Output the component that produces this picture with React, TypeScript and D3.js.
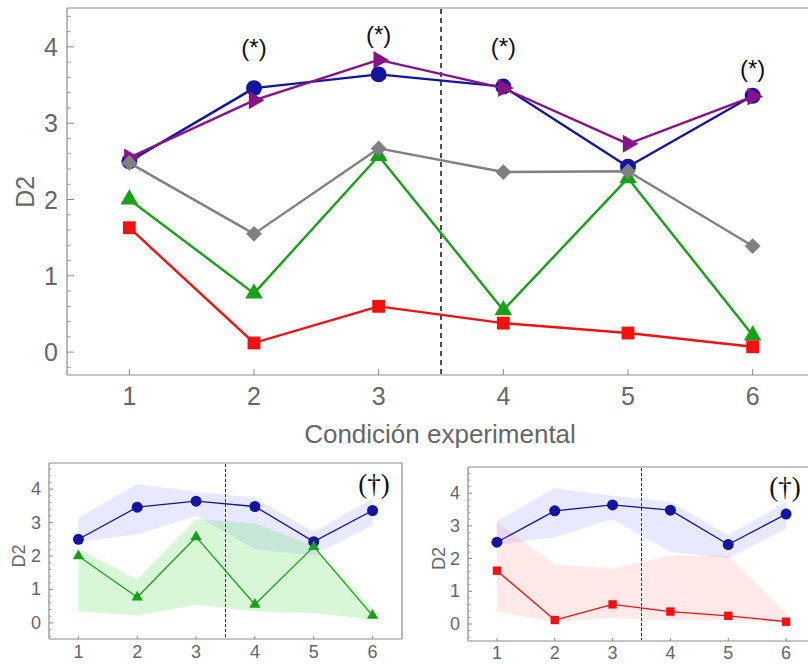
import React from "react";
import * as d3 from "d3";

const conditions = [1, 2, 3, 4, 5, 6];
const blueValues = [2.5, 3.46, 3.64, 3.48, 2.43, 3.36];
const purpleValues = [2.55, 3.3, 3.83, 3.46, 2.73, 3.35];
const grayValues = [2.48, 1.55, 2.67, 2.36, 2.37, 1.39];
const greenValues = [2.0, 0.77, 2.57, 0.55, 2.28, 0.22];
const redValues = [1.63, 0.12, 0.6, 0.38, 0.25, 0.07];

const blueLower = [2.42, 2.65, 3.2, 2.2, 2.02, 2.92];
const blueUpper = [3.14, 4.15, 3.92, 3.74, 2.72, 3.72];
const greenLower = [0.35, 0.22, 0.55, 0.35, 0.3, 0.1];
const greenUpper = [2.2, 1.3, 3.1, 2.97, 2.3, 0.42];
const redLower = [0.38, 0.07, 0.18, 0.12, 0.12, 0.05];
const redUpper = [3.12, 1.82, 1.7, 2.1, 2.08, 0.32];

const starConditions = [2, 3, 4, 6];
const starValues = [3.99, 4.16, 4.0, 3.72];

const mainYTicks = [0, 1, 2, 3, 4];
const smallYTicks = [0, 1, 2, 3, 4];

const FONT = "'Liberation Sans', Arial, sans-serif";
const SERIF = "'Liberation Serif', 'Times New Roman', serif";
const TICK_COLOR = "#666";
const AXIS_COLOR = "#8a8a8a";

type Scale = d3.ScaleLinear<number, number>;

function symbolPath(kind: string, size: number) {
  if (kind === "circle") return d3.symbol(d3.symbolCircle, size)()!;
  if (kind === "square") return d3.symbol(d3.symbolSquare, size)()!;
  if (kind === "diamond") return d3.symbol(d3.symbolSquare, size)()!;
  return d3.symbol(d3.symbolTriangle, size)()!;
}
function symbolRotate(kind: string) {
  if (kind === "diamond") return 45;
  if (kind === "right") return 90;
  return 0;
}

function Series({
  x, y, values, color, kind, size, width,
}: { x: Scale; y: Scale; values: number[]; color: string; kind: string; size: number; width: number }) {
  const line = d3
    .line<number>()
    .x((_, i) => x(conditions[i]))
    .y((d) => y(d));
  const path = symbolPath(kind, size);
  const rot = symbolRotate(kind);
  return (
    <g>
      <path d={line(values)!} fill="none" stroke={color} strokeWidth={width} strokeLinejoin="round" />
      {values.map((v, i) => (
        <path
          key={i}
          d={path}
          fill={color}
          transform={`translate(${x(conditions[i])},${y(v)}) rotate(${rot})`}
        />
      ))}
    </g>
  );
}

function Band({ x, y, lower, upper, color, opacity }: { x: Scale; y: Scale; lower: number[]; upper: number[]; color: string; opacity: number }) {
  const area = d3
    .area<number>()
    .x((_, i) => x(conditions[i]))
    .y0((_, i) => y(lower[i]))
    .y1((_, i) => y(upper[i]));
  return <path d={area(conditions)!} fill={color} fillOpacity={opacity} stroke="none" />;
}

function Frame({
  x, y, left, right, top, bottom, yTicks, majorLen, minorLen, fontSize, labelGap, xLabelY, drawRight, xTickLen,
}: {
  x: Scale; y: Scale; left: number; right: number; top: number; bottom: number; yTicks: number[];
  majorLen: number; minorLen: number; fontSize: number; labelGap: number; xLabelY: number; drawRight: boolean; xTickLen: number;
}) {
  const [d0, d1] = y.domain();
  const minor = d3.range(Math.ceil(d0 / 0.2) * 0.2, d1, 0.2).filter((v) => Math.abs(v - Math.round(v)) > 0.01);
  return (
    <g>
      <line x1={left} x2={right} y1={top} y2={top} stroke={AXIS_COLOR} strokeWidth={1.2} />
      <line x1={left} x2={right} y1={bottom} y2={bottom} stroke={AXIS_COLOR} strokeWidth={1.2} />
      <line x1={left} x2={left} y1={top} y2={bottom} stroke={AXIS_COLOR} strokeWidth={1.2} />
      {drawRight && <line x1={right} x2={right} y1={top} y2={bottom} stroke={AXIS_COLOR} strokeWidth={1.2} />}
      {yTicks.map((t) => (
        <g key={t}>
          <line x1={left} x2={left + majorLen} y1={y(t)} y2={y(t)} stroke={AXIS_COLOR} strokeWidth={1} />
          <text
            x={left - labelGap}
            y={y(t)}
            textAnchor="end"
            dominantBaseline="central"
            fontFamily={FONT}
            fontSize={fontSize}
            fill={TICK_COLOR}
          >
            {t}
          </text>
        </g>
      ))}
      {minor.map((t, i) => (
        <line key={i} x1={left} x2={left + minorLen} y1={y(t)} y2={y(t)} stroke={AXIS_COLOR} strokeWidth={0.8} />
      ))}
      {conditions.map((c) => (
        <g key={c}>
          <line x1={x(c)} x2={x(c)} y1={bottom} y2={bottom - xTickLen} stroke={AXIS_COLOR} strokeWidth={1} />
          <text
            x={x(c)}
            y={xLabelY}
            textAnchor="middle"
            dominantBaseline="central"
            fontFamily={FONT}
            fontSize={fontSize}
            fill={TICK_COLOR}
          >
            {c}
          </text>
        </g>
      ))}
    </g>
  );
}

export default function App() {
  // Main panel
  const mx = d3.scaleLinear().domain([0.5, 6.5]).range([67, 815]);
  const my = d3.scaleLinear().domain([-0.3, 4.51]).range([375, 8]);
  // Bottom-left panel
  const lx = d3.scaleLinear().domain([0.5, 6.5]).range([49, 402]);
  const ly = d3.scaleLinear().domain([-0.48, 4.78]).range([639, 463]);
  // Bottom-right panel
  const rx = d3.scaleLinear().domain([0.5, 6.5]).range([468, 815]);
  const ry = d3.scaleLinear().domain([-0.52, 4.8]).range([641, 467]);

  const blue = "#14149e";
  const purple = "#87138a";
  const gray = "#808080";
  const green = "#18a018";
  const red = "#f21010";

  return (
    <div style={{ position: "absolute", left: 0, top: 0 }}>
      <svg width={808} height={664} style={{ display: "block", background: "#fff" }}>
        <rect width={808} height={664} fill="#fff" />
        {/* ---------- main panel ---------- */}
        <Frame
          x={mx} y={my} left={67} right={815} top={8} bottom={375} yTicks={mainYTicks}
          majorLen={7} minorLen={4} fontSize={25} labelGap={9} xLabelY={396} drawRight={false} xTickLen={6}
        />
        <line x1={mx(3.5)} x2={mx(3.5)} y1={9} y2={374} stroke="#222" strokeWidth={1.6} strokeDasharray="5,4" />
        <Series x={mx} y={my} values={greenValues} color={green} kind="triangle" size={135} width={2.4} />
        <Series x={mx} y={my} values={blueValues} color={blue} kind="circle" size={200} width={2.4} />
        <Series x={mx} y={my} values={purpleValues} color={purple} kind="right" size={140} width={2.4} />
        <Series x={mx} y={my} values={grayValues} color={gray} kind="diamond" size={125} width={2.4} />
        <Series x={mx} y={my} values={redValues} color={red} kind="square" size={165} width={2.4} />
        {starConditions.map((c, i) => (
          <text
            key={c}
            x={mx(c)}
            y={my(starValues[i])}
            textAnchor="middle"
            dominantBaseline="central"
            fontFamily={FONT}
            fontSize={24}
            fill="#111"
          >
            (*)
          </text>
        ))}
        <text
          x={25}
          y={my(2.1)}
          transform={`rotate(-90, 25, ${my(2.1)})`}
          textAnchor="middle"
          dominantBaseline="central"
          fontFamily={FONT}
          fontSize={25}
          fill={TICK_COLOR}
        >
          D2
        </text>
        <text x={440} y={434} textAnchor="middle" dominantBaseline="central" fontFamily={FONT} fontSize={26} fill={TICK_COLOR}>
          Condición experimental
        </text>

        {/* ---------- bottom-left panel ---------- */}
        <Band x={lx} y={ly} lower={blueLower} upper={blueUpper} color="#5a5aff" opacity={0.14} />
        <Band x={lx} y={ly} lower={greenLower} upper={greenUpper} color="#5ee05e" opacity={0.25} />
        <Frame
          x={lx} y={ly} left={49} right={402} top={463} bottom={639} yTicks={smallYTicks}
          majorLen={4} minorLen={2.5} fontSize={18} labelGap={8} xLabelY={652} drawRight={true} xTickLen={3}
        />
        <line x1={lx(3.5)} x2={lx(3.5)} y1={464} y2={638} stroke="#333" strokeWidth={1} strokeDasharray="3,2" />
        <Series x={lx} y={ly} values={blueValues} color={blue} kind="circle" size={95} width={1.3} />
        <Series x={lx} y={ly} values={greenValues} color={green} kind="triangle" size={55} width={1.3} />
        <text x={19} y={ly(2)} transform={`rotate(-90, 19, ${ly(2)})`} textAnchor="middle" dominantBaseline="central" fontFamily={FONT} fontSize={18} fill={TICK_COLOR}>
          D2
        </text>
        <text x={374} y={484} textAnchor="middle" dominantBaseline="central" fontFamily={SERIF} fontSize={27} fill="#111">
          (†)
        </text>

        {/* ---------- bottom-right panel ---------- */}
        <Band x={rx} y={ry} lower={blueLower} upper={blueUpper} color="#5a5aff" opacity={0.14} />
        <Band x={rx} y={ry} lower={redLower} upper={redUpper} color="#ff6a6a" opacity={0.15} />
        <Frame
          x={rx} y={ry} left={468} right={815} top={467} bottom={641} yTicks={smallYTicks}
          majorLen={4} minorLen={2.5} fontSize={18} labelGap={8} xLabelY={653} drawRight={false} xTickLen={3}
        />
        <line x1={rx(3.5)} x2={rx(3.5)} y1={468} y2={640} stroke="#333" strokeWidth={1} strokeDasharray="3,2" />
        <Series x={rx} y={ry} values={blueValues} color={blue} kind="circle" size={95} width={1.3} />
        <Series x={rx} y={ry} values={redValues} color={red} kind="square" size={70} width={1.3} />
        <text x={439} y={ry(2)} transform={`rotate(-90, 439, ${ry(2)})`} textAnchor="middle" dominantBaseline="central" fontFamily={FONT} fontSize={18} fill={TICK_COLOR}>
          D2
        </text>
        <text x={785} y={487} textAnchor="middle" dominantBaseline="central" fontFamily={SERIF} fontSize={27} fill="#111">
          (†)
        </text>
      </svg>
    </div>
  );
}
